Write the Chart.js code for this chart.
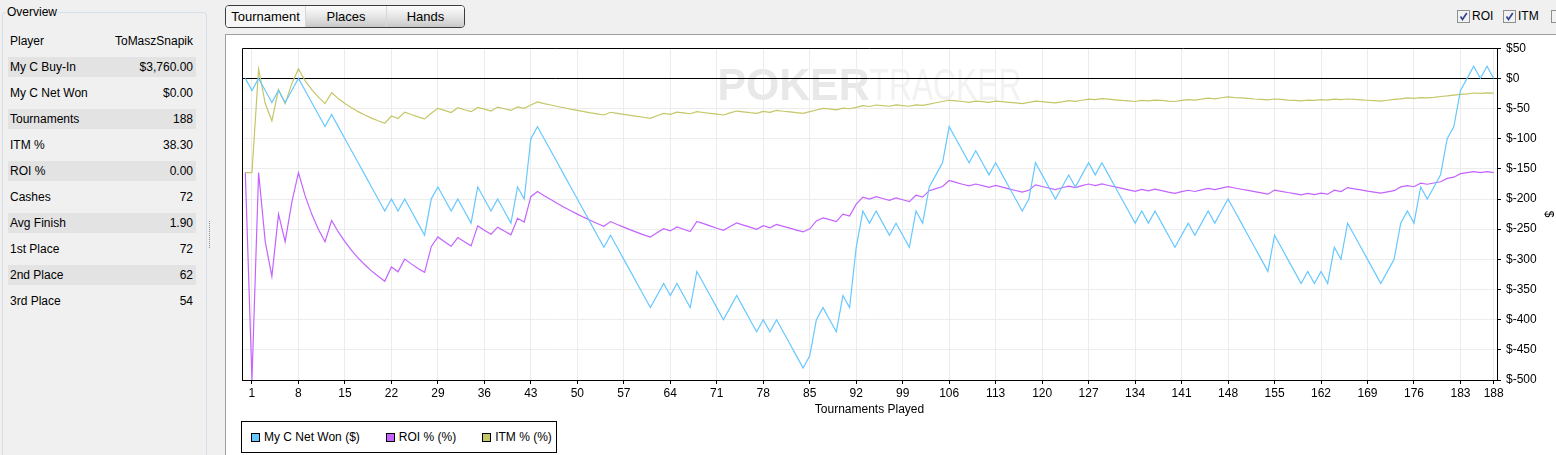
<!DOCTYPE html>
<html lang="en">
<head>
  <meta charset="UTF-8">
  <title>Tournament Results</title>
  <script src="https://cdn.jsdelivr.net/npm/chart.js"></script>
  <style>
    body {
      margin: 0;
      width: 1556px;
      height: 455px;
      overflow: hidden;
      position: relative;
      background: #f0f0f0;
      font-family: 'Liberation Sans', Arial, sans-serif;
      font-size: 12px;
      color: #000;
    }

    /* left overview panel */
    .overview {
      position: absolute;
      left: 2px;
      top: 12px;
      width: 203px;
      height: 470px;
      border: 1px solid #d5dfe5;
      border-radius: 3px;
    }
    .overview .caption {
      position: absolute;
      left: 3px;
      top: -8px;
      padding: 0 1px;
      background: #f0f0f0;
      line-height: 15px;
    }
    .row {
      position: absolute;
      left: 5px;
      width: 188px;
      height: 20px;
      line-height: 20px;
    }
    .row.shade { background: #e3e3e3; }
    .row .k { position: absolute; left: 2px; }
    .row .v { position: absolute; right: 3px; }

    .splitter {
      position: absolute;
      left: 209px;
      top: 221px;
      height: 27px;
      border-left: 1px dotted #8a8a8a;
    }

    /* tabs */
    .tabs {
      position: absolute;
      left: 225px;
      top: 5px;
      width: 240px;
      height: 23px;
      box-sizing: border-box;
      border: 1px solid #3c3c3c;
      border-radius: 4px;
      overflow: hidden;
      display: flex;
    }
    .tabs div {
      height: 100%;
      line-height: 21px;
      text-align: center;
      font-size: 13px;
      border-right: 1px solid #d8d8d8;
      background: linear-gradient(#fdfdfd, #e6e6e6 50%, #c9c9c9);
    }
    .tabs div:last-child { border-right: none; }
    .tabs div.on { background: #f6f6f6; }

    .chk {
      position: absolute;
      top: 10px;
    }
    .chk-label {
      position: absolute;
      top: 9px;
      line-height: 15px;
    }

    /* chart frame */
    .frame {
      position: absolute;
      left: 225px;
      top: 34px;
      width: 1340px;
      height: 440px;
      border: 1px solid #a0a0a0;
      background: #fff;
    }
    .chart-box {
      position: absolute;
      left: 226px;
      top: 36px;
      width: 1330px;
      height: 384px;
    }
    .legend {
      position: absolute;
      left: 241px;
      top: 421px;
      width: 316px;
      height: 32px;
      box-sizing: border-box;
      border: 1px solid #000;
      display: flex;
      align-items: center;
      padding-left: 9px;
      white-space: nowrap;
      overflow: hidden;
    }
    .legend span.item {
      display: flex;
      flex-shrink: 0;
      align-items: center;
      margin-right: 26px;
    }
    .legend i {
      display: inline-block;
      flex-shrink: 0;
      width: 9px;
      height: 9px;
      box-sizing: border-box;
      border: 1px solid #000;
      margin-right: 4px;
    }
  </style>
</head>
<body>

  <div class="overview">
    <span class="caption">Overview</span>
    <div class="row" style="top:18px"><span class="k">Player</span><span class="v">ToMaszSnapik</span></div>
    <div class="row shade" style="top:44px"><span class="k">My C Buy-In</span><span class="v">$3,760.00</span></div>
    <div class="row" style="top:70px"><span class="k">My C Net Won</span><span class="v">$0.00</span></div>
    <div class="row shade" style="top:96px"><span class="k">Tournaments</span><span class="v">188</span></div>
    <div class="row" style="top:122px"><span class="k">ITM %</span><span class="v">38.30</span></div>
    <div class="row shade" style="top:148px"><span class="k">ROI %</span><span class="v">0.00</span></div>
    <div class="row" style="top:174px"><span class="k">Cashes</span><span class="v">72</span></div>
    <div class="row shade" style="top:200px"><span class="k">Avg Finish</span><span class="v">1.90</span></div>
    <div class="row" style="top:226px"><span class="k">1st Place</span><span class="v">72</span></div>
    <div class="row shade" style="top:252px"><span class="k">2nd Place</span><span class="v">62</span></div>
    <div class="row" style="top:278px"><span class="k">3rd Place</span><span class="v">54</span></div>
  </div>
  <div class="splitter"></div>

  <div class="tabs">
    <div class="on" style="width:79px">Tournament</div>
    <div style="width:80px">Places</div>
    <div style="flex:1">Hands</div>
  </div>

  <svg class="chk" style="left:1457px" width="13" height="13"><rect x="0.5" y="0.5" width="12" height="12" fill="#f2f2f2" stroke="#8e8f8f"/><path d="M3.5 6.5 L5.5 9.5 L9.8 3" stroke="#33458f" stroke-width="1.7" fill="none"/></svg>
  <span class="chk-label" style="left:1472px">ROI</span>
  <svg class="chk" style="left:1503px" width="13" height="13"><rect x="0.5" y="0.5" width="12" height="12" fill="#f2f2f2" stroke="#8e8f8f"/><path d="M3.5 6.5 L5.5 9.5 L9.8 3" stroke="#33458f" stroke-width="1.7" fill="none"/></svg>
  <span class="chk-label" style="left:1518px">ITM</span>
  <svg class="chk" style="left:1551px" width="13" height="13"><rect x="0.5" y="0.5" width="12" height="12" fill="#f2f2f2" stroke="#8e8f8f"/></svg>

  <div class="frame"></div>
  <div class="chart-box"><canvas id="resultsChart"></canvas></div>
  <div class="legend" id="legend"></div>

  <script>
    // tournament number (0 = start)
    const tournaments = [
      0, 1, 2, 3, 4, 5, 6, 7, 8, 9, 10, 11, 12, 13, 14, 15, 16, 17, 18, 19,
      20, 21, 22, 23, 24, 25, 26, 27, 28, 29, 30, 31, 32, 33, 34, 35, 36, 37, 38, 39,
      40, 41, 42, 43, 44, 45, 46, 47, 48, 49, 50, 51, 52, 53, 54, 55, 56, 57, 58, 59,
      60, 61, 62, 63, 64, 65, 66, 67, 68, 69, 70, 71, 72, 73, 74, 75, 76, 77, 78, 79,
      80, 81, 82, 83, 84, 85, 86, 87, 88, 89, 90, 91, 92, 93, 94, 95, 96, 97, 98, 99,
      100, 101, 102, 103, 104, 105, 106, 107, 108, 109, 110, 111, 112, 113, 114, 115, 116, 117, 118, 119,
      120, 121, 122, 123, 124, 125, 126, 127, 128, 129, 130, 131, 132, 133, 134, 135, 136, 137, 138, 139,
      140, 141, 142, 143, 144, 145, 146, 147, 148, 149, 150, 151, 152, 153, 154, 155, 156, 157, 158, 159,
      160, 161, 162, 163, 164, 165, 166, 167, 168, 169, 170, 171, 172, 173, 174, 175, 176, 177, 178, 179,
      180, 181, 182, 183, 184, 185, 186, 187, 188
    ];

    const xTicks = [1, 8, 15, 22, 29, 36, 43, 50, 57, 64, 71, 78, 85, 92, 99, 106, 113, 120, 127, 134, 141, 148, 155, 162, 169, 176, 183, 188];

    // My C Net Won ($)
    const netWon = [
      0, -20, 0, -20, -40, -20, -40, -20, 0, -20,
      -40, -60, -80, -60, -80, -100, -120, -140, -160, -180,
      -200, -220, -200, -220, -200, -220, -240, -260, -200, -180,
      -200, -220, -200, -220, -240, -180, -200, -220, -200, -220,
      -240, -180, -200, -100, -80, -100, -120, -140, -160, -180,
      -200, -220, -240, -260, -280, -260, -280, -300, -320, -340,
      -360, -380, -360, -340, -360, -340, -360, -380, -320, -340,
      -360, -380, -400, -380, -360, -380, -400, -420, -400, -420,
      -400, -420, -440, -460, -480, -460, -400, -380, -400, -420,
      -360, -380, -280, -220, -240, -220, -240, -260, -240, -260,
      -280, -220, -240, -180, -160, -140, -80, -100, -120, -140,
      -120, -140, -160, -140, -160, -180, -200, -220, -200, -140,
      -160, -180, -200, -180, -160, -180, -160, -140, -160, -140,
      -160, -180, -200, -220, -240, -220, -240, -220, -240, -260,
      -280, -260, -240, -260, -240, -220, -240, -220, -200, -220,
      -240, -260, -280, -300, -320, -260, -280, -300, -320, -340,
      -320, -340, -320, -340, -280, -300, -240, -260, -280, -300,
      -320, -340, -320, -300, -240, -220, -240, -180, -200, -180,
      -160, -100, -80, -20, 0, 20, 0, 20, 0
    ];

    // ROI % (%)
    const roiPct = [
      0, -100, 0, -33.3, -50, -20, -33.3, -14.3, 0, -11.1,
      -20, -27.3, -33.3, -23.1, -28.6, -33.3, -37.5, -41.2, -44.4, -47.4,
      -50, -52.4, -45.5, -47.8, -41.7, -44, -46.2, -48.1, -35.7, -31,
      -33.3, -35.5, -31.3, -33.3, -35.3, -25.7, -27.8, -29.7, -26.3, -28.2,
      -30, -22, -23.8, -11.6, -9.1, -11.1, -13, -14.9, -16.7, -18.4,
      -20, -21.6, -23.1, -24.5, -25.9, -23.6, -25, -26.3, -27.6, -28.8,
      -30, -31.1, -29, -27, -28.1, -26.2, -27.3, -28.4, -23.5, -24.6,
      -25.7, -26.8, -27.8, -26, -24.3, -25.3, -26.3, -27.3, -25.6, -26.6,
      -25, -25.9, -26.8, -27.7, -28.6, -27.1, -23.3, -21.8, -22.7, -23.6,
      -20, -20.9, -15.2, -11.8, -12.8, -11.6, -12.5, -13.4, -12.2, -13.1,
      -14, -10.9, -11.8, -8.7, -7.7, -6.7, -3.8, -4.7, -5.6, -6.4,
      -5.5, -6.3, -7.1, -6.2, -7, -7.8, -8.6, -9.4, -8.5, -5.9,
      -6.7, -7.4, -8.2, -7.3, -6.5, -7.2, -6.3, -5.5, -6.3, -5.4,
      -6.2, -6.9, -7.6, -8.3, -9, -8.1, -8.8, -8, -8.7, -9.4,
      -10, -9.2, -8.5, -9.1, -8.3, -7.6, -8.2, -7.5, -6.8, -7.4,
      -8, -8.6, -9.2, -9.8, -10.4, -8.4, -9, -9.6, -10.1, -10.7,
      -10, -10.6, -9.9, -10.4, -8.5, -9.1, -7.2, -7.8, -8.3, -8.9,
      -9.4, -9.9, -9.3, -8.7, -6.9, -6.3, -6.8, -5.1, -5.6, -5,
      -4.4, -2.8, -2.2, -0.5, 0, 0.5, 0, 0.5, 0
    ];

    // ITM % (%)
    const itmPct = [
      0, 0, 50, 33.3, 25, 40, 33.3, 42.9, 50, 44.4,
      40, 36.4, 33.3, 38.5, 35.7, 33.3, 31.3, 29.4, 27.8, 26.3,
      25, 23.8, 27.3, 26.1, 29.2, 28, 26.9, 25.9, 28.6, 31,
      30, 29, 31.3, 30.3, 29.4, 31.4, 30.6, 29.7, 31.6, 30.8,
      30, 31.7, 31, 32.6, 34.1, 33.3, 32.6, 31.9, 31.3, 30.6,
      30, 29.4, 28.8, 28.3, 27.8, 29.1, 28.6, 28.1, 27.6, 27.1,
      26.7, 26.2, 27.4, 28.6, 28.1, 29.2, 28.8, 28.4, 29.4, 29,
      28.6, 28.2, 27.8, 28.8, 29.7, 29.3, 28.9, 28.6, 29.5, 29.1,
      30, 29.6, 29.3, 28.9, 28.6, 29.4, 30.2, 31, 30.7, 30.3,
      31.1, 30.8, 31.5, 32.3, 31.9, 32.6, 32.3, 32, 32.7, 32.3,
      32, 32.7, 32.4, 33, 33.7, 34.3, 34.9, 34.6, 34.3, 33.9,
      34.5, 34.2, 33.9, 34.5, 34.2, 33.9, 33.6, 33.3, 33.9, 34.5,
      34.2, 33.9, 33.6, 34.1, 34.7, 34.4, 34.9, 35.4, 35.2, 35.7,
      35.4, 35.1, 34.8, 34.6, 34.3, 34.8, 34.6, 35, 34.8, 34.5,
      34.3, 34.8, 35.2, 35, 35.4, 35.9, 35.6, 36.1, 36.5, 36.2,
      36, 35.8, 35.5, 35.3, 35.1, 35.5, 35.3, 35, 34.8, 34.6,
      35, 34.8, 35.2, 35, 35.4, 35.2, 35.5, 35.3, 35.1, 34.9,
      34.7, 34.5, 34.9, 35.3, 35.6, 36, 35.8, 36.2, 36, 36.3,
      36.7, 37, 37.4, 37.7, 38, 38.4, 38.2, 38.5, 38.3
    ];

    Chart.defaults.font.family = "'Liberation Sans', Arial, sans-serif";
    Chart.defaults.font.size = 12;
    Chart.defaults.color = '#000';

    // faint watermark behind the grid + black left/top edge of the plot
    const plotDecor = {
      id: 'plotDecor',
      beforeDraw(chart) {
        const { ctx, chartArea: a } = chart;
        const mid = (a.left + a.right) / 2;
        const base = a.top + 52;
        ctx.save();
        ctx.textBaseline = 'alphabetic';
        ctx.font = 'bold 45px "Liberation Sans", Arial, sans-serif';
        let w = ctx.measureText('POKER').width;
        ctx.save();
        ctx.translate(mid - 152, base);
        ctx.scale(152 / w, 1);
        ctx.fillStyle = '#e8e8e8';
        ctx.fillText('POKER', 0, 0);
        ctx.restore();
        ctx.font = '45px "Liberation Sans", Arial, sans-serif';
        w = ctx.measureText('TRACKER').width;
        ctx.translate(mid, base);
        ctx.scale(152 / w, 1);
        ctx.fillStyle = '#f2f2f2';
        ctx.fillText('TRACKER', 0, 0);
        ctx.restore();
      },
      afterDatasetsDraw(chart) {
        const { ctx, chartArea: a } = chart;
        ctx.save();
        ctx.strokeStyle = '#000';
        ctx.lineWidth = 1;
        ctx.beginPath();
        ctx.moveTo(Math.round(a.left) + 0.5, a.bottom);
        ctx.lineTo(Math.round(a.left) + 0.5, Math.round(a.top) + 0.5);
        ctx.lineTo(a.right, Math.round(a.top) + 0.5);
        ctx.stroke();
        ctx.restore();
      }
    };

    const chart = new Chart(document.getElementById('resultsChart'), {
      type: 'line',
      data: {
        labels: tournaments,
        datasets: [
          { label: 'My C Net Won ($)', data: netWon, borderColor: '#66c8ff', backgroundColor: '#66c8ff', yAxisID: 'y' },
          { label: 'ROI % (%)', data: roiPct, borderColor: '#c463ff', backgroundColor: '#c463ff', yAxisID: 'pct' },
          { label: 'ITM % (%)', data: itmPct, borderColor: '#c5c667', backgroundColor: '#c5c667', yAxisID: 'pct' }
        ]
      },
      options: {
        responsive: true,
        maintainAspectRatio: false,
        animation: false,
        layout: { padding: { left: 16, top: 11, right: 0, bottom: 0 } },
        elements: {
          point: { radius: 0 },
          line: { borderWidth: 1.2, tension: 0 }
        },
        plugins: {
          legend: { display: false },
          tooltip: { enabled: false }
        },
        scales: {
          x: {
            type: 'linear',
            min: -0.5,
            max: 188.5,
            afterBuildTicks: axis => { axis.ticks = xTicks.map(v => ({ value: v })); },
            afterFit: axis => { axis.height = 40; },
            ticks: { autoSkip: false, maxRotation: 0, padding: 2, callback: v => String(v) },
            grid: { color: '#ececec', tickColor: '#000', tickLength: 4 },
            border: { color: '#000' },
            title: { display: true, text: 'Tournaments Played', padding: { top: 2, bottom: 3 } }
          },
          y: {
            position: 'right',
            min: -500,
            max: 50,
            afterFit: axis => { axis.width = 59; },
            ticks: { stepSize: 50, padding: 5, callback: v => '$' + v },
            grid: {
              color: c => (c.tick && c.tick.value === 0 ? '#000' : '#ececec'),
              tickColor: '#000',
              tickLength: 4
            },
            border: { color: '#000' },
            title: { display: true, text: '$', padding: { top: 0, bottom: 1 } }
          },
          pct: {
            axis: 'y',
            display: false,
            min: -100,
            max: 60
          }
        }
      },
      plugins: [plotDecor]
    });

    // legend in a framed box under the plot
    const legend = document.getElementById('legend');
    chart.data.datasets.forEach(ds => {
      const item = document.createElement('span');
      item.className = 'item';
      item.innerHTML = `<i style="background:${ds.borderColor}"></i>${ds.label}`;
      legend.appendChild(item);
    });
  </script>
</body>
</html>
